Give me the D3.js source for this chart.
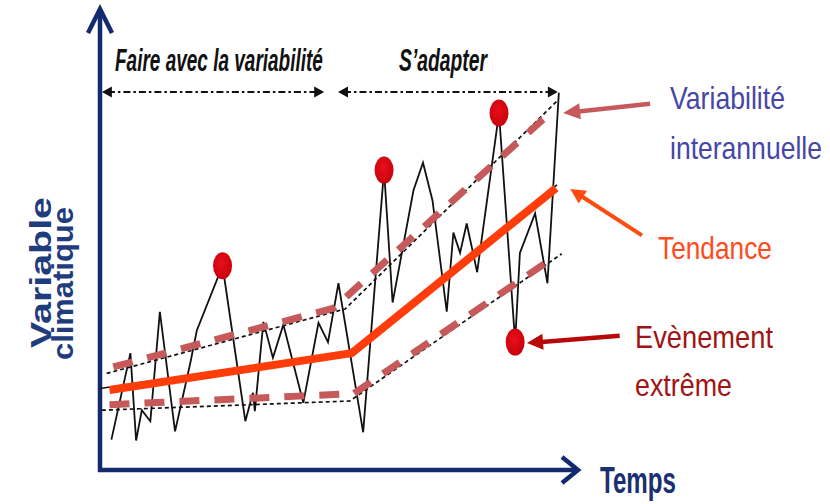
<!DOCTYPE html>
<html><head><meta charset="utf-8">
<script src="https://cdn.jsdelivr.net/npm/d3@7"></script>
<style>html,body{margin:0;padding:0;background:#fff;}svg{display:block;}</style>
</head><body><svg id="c" width="830" height="504"></svg>
<script>
// ---------- data (time units / climate-variable units) ----------
const timeSteps = [1.2, 3.2, 3.8, 4.4, 5.3, 6.3, 7.9, 9.5, 10.2, 12.9, 15.3, 16.1, 16.3, 17.2, 18.2, 19.3, 21.4, 23.0, 24.0, 25.1, 27.7, 29.9, 30.8, 33.0, 34.0, 35.0, 36.5, 37.2, 37.9, 38.6, 39.7, 42.0, 43.7, 44.2, 45.8, 47.1, 48.3];
const observed  = [3.3, 12.7, 3.2, 6.5, 5.3, 17.2, 4.2, 11.6, 15.2, 22.2, 5.3, 8.4, 6.4, 16.1, 12.2, 15.8, 7.3, 16.0, 13.9, 20.3, 4.1, 32.6, 18.2, 30.4, 33.4, 29.3, 17.2, 25.8, 23.6, 26.8, 21.5, 38.8, 13.9, 23.6, 27.9, 20.3, 41.0];
const extremeT = [12.9, 29.9, 42.0, 43.7];
const extremeV = [22.2, 32.6, 38.8, 13.9];
const trendT = [1.0, 26.5, 48.0];
const trendV = [8.7, 12.7, 30.65];
const trendRefT = [0, 26.5, 48.1];
const trendRefV = [8.85, 12.9, 31.0];
const upperBandT = [1.4, 24.6, 47.7];
const upperBandV = [11.2, 17.6, 39.1];
const lowerBandT = [1.0, 26.7, 47.2];
const lowerBandV = [7.1, 8.3, 22.7];
const upperEnvT = [0.7, 25.8, 48.2];
const upperEnvV = [10.5, 17.5, 40.2];
const lowerEnvT = [0.2, 26.3, 48.6];
const lowerEnvV = [6.5, 7.5, 23.5];
const phaseLabels = ["Faire avec la variabilité", "S\u2019adapter"];
const phaseStart = [0.2, 25.05];
const phaseEnd = [23.6, 48.2];
const phaseLevel = 41.1;
const xAxisLabel = "Temps";
const yAxisLabel = ["Variable", "climatique"];
const legendLabels = [["Variabilité", "interannuelle"], ["Tendance"], ["Evènement", "extrême"]];

// ---------- scales ----------
const svg = d3.select("#c");
const x = d3.scaleLinear().domain([0, 50]).range([100, 575]);
const y = d3.scaleLinear().domain([0, 50]).range([470, 10]);
const zip = (a, b) => a.map((t, i) => [t, b[i]]);
const line = d3.line().x(d => x(d[0])).y(d => y(d[1]));
const FONT = "'Liberation Sans', Arial, sans-serif";

function fitText(str, o) {
  const t = svg.append("text").text(str)
    .attr("font-family", FONT).attr("font-size", 100)
    .attr("font-weight", o.weight || "normal").attr("font-style", o.style || "normal")
    .attr("fill", o.fill);
  const w = t.node().getComputedTextLength();
  const sx = o.w / w, sy = o.cap / 71.6;
  t.attr("transform", `translate(${o.x},${o.y})${o.rot ? " rotate(-90)" : ""} scale(${sx},${sy})`);
  return t;
}
function arrow(x1, y1, x2, y2, color, width, L, W) {
  const dx = x2 - x1, dy = y2 - y1, d = Math.hypot(dx, dy);
  const ux = dx / d, uy = dy / d, nx = -uy, ny = ux;
  const bx = x2 - ux * L, by = y2 - uy * L;
  svg.append("line").attr("x1", x1).attr("y1", y1).attr("x2", bx + ux * 1.5).attr("y2", by + uy * 1.5)
    .attr("stroke", color).attr("stroke-width", width);
  svg.append("path").attr("d", `M${x2},${y2}L${bx + nx * W / 2},${by + ny * W / 2}L${bx - nx * W / 2},${by - ny * W / 2}Z`)
    .attr("fill", color);
}

// ---------- axes ----------
const NAVY = "#142a6e";
svg.append("line").attr("x1", x(0)).attr("y1", y(0) + 2).attr("x2", x(0)).attr("y2", y(50) - 1)
  .attr("stroke", NAVY).attr("stroke-width", 4.5);
svg.append("line").attr("x1", x(0) - 2).attr("y1", y(0)).attr("x2", x(50) + 2).attr("y2", y(0))
  .attr("stroke", NAVY).attr("stroke-width", 4.5);
svg.append("path").attr("d", `M${x(0) - 12},${y(50) + 23}L${x(0)},${y(50) - 1}L${x(0) + 12},${y(50) + 23}`)
  .attr("fill", "none").attr("stroke", NAVY).attr("stroke-width", 4.5).attr("stroke-linejoin", "miter");
svg.append("path").attr("d", `M${x(50) - 13},${y(0) - 13}L${x(50) + 3},${y(0)}L${x(50) - 13},${y(0) + 13}`)
  .attr("fill", "none").attr("stroke", NAVY).attr("stroke-width", 4.5);

// ---------- envelopes & bands ----------
svg.append("path").attr("d", line(zip(upperEnvT, upperEnvV))).attr("fill", "none")
  .attr("stroke", "#111").attr("stroke-width", 1.7).attr("stroke-dasharray", "4,3");
svg.append("path").attr("d", line(zip(lowerEnvT, lowerEnvV))).attr("fill", "none")
  .attr("stroke", "#111").attr("stroke-width", 1.7).attr("stroke-dasharray", "4,3");

// observed series (thin black)
svg.append("path").attr("d", line(zip(timeSteps, observed))).attr("fill", "none")
  .attr("stroke", "#111").attr("stroke-width", 1.8).attr("stroke-linejoin", "miter");

const BAND = "#c6595a";
[[upperBandT, upperBandV], [lowerBandT, lowerBandV]].forEach(([t, v]) => {
  svg.append("path").attr("d", line(zip(t, v))).attr("fill", "none")
    .attr("stroke", BAND).attr("stroke-width", 7).attr("stroke-dasharray", "20,15");
});

// trend
svg.append("path").attr("d", line(zip(trendRefT, trendRefV))).attr("fill", "none")
  .attr("stroke", "#111").attr("stroke-width", 1.6);
svg.append("path").attr("d", line(zip(trendT, trendV))).attr("fill", "none")
  .attr("stroke", "#ff3d0a").attr("stroke-width", 8).attr("stroke-linejoin", "round");

// extreme events
const defs = svg.append("defs");
const rg = defs.append("radialGradient").attr("id", "dot").attr("cx", "45%").attr("cy", "40%").attr("r", "60%");
rg.append("stop").attr("offset", "0%").attr("stop-color", "#e8101c");
rg.append("stop").attr("offset", "100%").attr("stop-color", "#c8000a");
svg.selectAll(".ev").data(zip(extremeT, extremeV)).join("ellipse")
  .attr("cx", d => x(d[0])).attr("cy", d => y(d[1]))
  .attr("rx", 9.5).attr("ry", 13.5).attr("fill", "url(#dot)");

// ---------- phases ----------
phaseLabels.forEach((lab, i) => {
  const x1 = x(phaseStart[i]), x2 = x(phaseEnd[i]), yy = y(phaseLevel);
  svg.append("line").attr("x1", x1 + 6).attr("x2", x2 - 6).attr("y1", yy).attr("y2", yy)
    .attr("stroke", "#111").attr("stroke-width", 2).attr("stroke-dasharray", "7,3,2.5,3");
  svg.append("path").attr("d", `M${x1},${yy}L${x1 + 10},${yy - 5.5}L${x1 + 10},${yy + 5.5}Z`).attr("fill", "#111");
  svg.append("path").attr("d", `M${x2},${yy}L${x2 - 10},${yy - 5.5}L${x2 - 10},${yy + 5.5}Z`).attr("fill", "#111");
});
fitText(phaseLabels[0], { x: 115, y: 71, w: 208, cap: 22, weight: "bold", style: "italic", fill: "#111" });
fitText(phaseLabels[1], { x: 399, y: 71, w: 88, cap: 22, weight: "bold", style: "italic", fill: "#111" });

// ---------- axis labels ----------
fitText(xAxisLabel, { x: 600, y: 493, w: 76, cap: 27, weight: "bold", fill: "#1a3070" });
fitText(yAxisLabel[0], { x: 51, y: 348, w: 151, cap: 21, weight: "bold", fill: "#1f3c7c", rot: true });
fitText(yAxisLabel[1], { x: 73, y: 360, w: 153, cap: 21, weight: "bold", fill: "#1f3c7c", rot: true });

// ---------- annotations ----------
arrow(x(57.9), y(39.8), x(48.75), y(38.8), BAND, 4.5, 17, 16);
arrow(x(57.05), y(25.5), x(49.5), y(30.55), "#ff4a10", 4, 15, 15);
arrow(x(54.7), y(14.6), x(44.95), y(13.8), "#b80808", 4.5, 16, 16);

fitText(legendLabels[0][0], { x: 670, y: 109, w: 115, cap: 23, fill: "#4646a6" });
fitText(legendLabels[0][1], { x: 670, y: 159, w: 152, cap: 23, fill: "#4646a6" });
fitText(legendLabels[1][0], { x: 658, y: 259, w: 114, cap: 23, fill: "#ff4a1c" });
fitText(legendLabels[2][0], { x: 635, y: 348, w: 138, cap: 23, fill: "#a01414" });
fitText(legendLabels[2][1], { x: 635, y: 396, w: 97, cap: 23, fill: "#a01414" });
</script></body></html>
